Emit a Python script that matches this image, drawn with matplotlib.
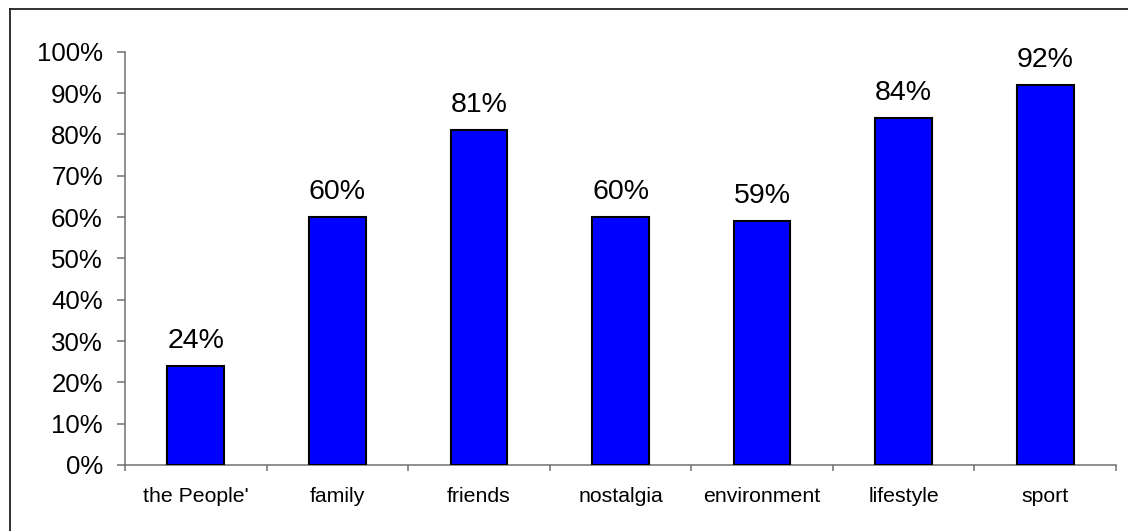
import matplotlib
matplotlib.use("Agg")
import matplotlib.pyplot as plt
from matplotlib.lines import Line2D
from matplotlib.ticker import FixedLocator, PercentFormatter

plt.rcParams['font.family'] = ['Liberation Sans', 'DejaVu Sans']

categories = ["the People'", "family", "friends", "nostalgia", "environment", "lifestyle", "sport"]
values = [24, 60, 81, 60, 59, 84, 92]
y_ticks = list(range(0, 101, 10))

W, H = 1128, 531
fig = plt.figure(figsize=(W / 100, H / 100), dpi=100)
ax = fig.add_axes([125 / W, 1 - 465 / H, (1116 - 125) / W, (465 - 51.7) / H])

x = list(range(len(categories)))
bars = ax.bar(x, values, width=0.4, color='#0000FF', edgecolor='black', linewidth=1.5, zorder=3)

for xi, v in zip(x, values):
    ax.annotate(f"{v}%", (xi, v), xytext=(0, 13), textcoords='offset points',
                ha='center', va='baseline', fontsize=20.5, color='black')

ax.set_xlim(-0.5, len(categories) - 0.5)
ax.set_ylim(0, 100)
ax.set_yticks(y_ticks)
ax.yaxis.set_major_formatter(PercentFormatter(decimals=0))
ax.set_xticks(x)
ax.set_xticklabels(categories, fontsize=15.3)
ax.xaxis.set_minor_locator(FixedLocator([i - 0.5 for i in range(len(categories) + 1)]))

for s in ('top', 'right'):
    ax.spines[s].set_visible(False)
for s in ('left', 'bottom'):
    ax.spines[s].set_color('#707070')
    ax.spines[s].set_linewidth(1.1)

ax.tick_params(axis='y', which='major', length=6, width=1.1, color='#707070',
               labelsize=18.6, pad=10)
ax.tick_params(axis='x', which='major', length=0, pad=16)
ax.tick_params(axis='x', which='minor', length=4.5, width=1.1, color='#707070')

# outer frame (top and left edges visible)
fig.add_artist(Line2D([10 / W, 10 / W], [0, 1 - 9 / H], transform=fig.transFigure,
                      color='#222222', linewidth=1.3))
fig.add_artist(Line2D([10 / W, 1], [1 - 9 / H, 1 - 9 / H], transform=fig.transFigure,
                      color='#222222', linewidth=1.3))

fig.savefig('out.png', dpi=100, facecolor='white')
